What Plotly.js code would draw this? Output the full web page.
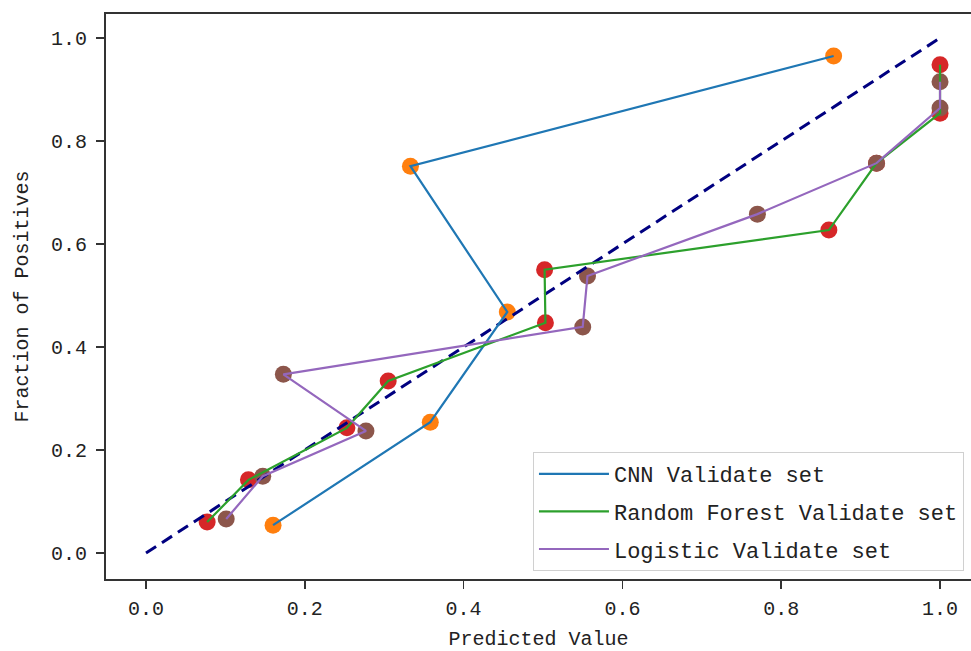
<!DOCTYPE html>
<html>
<head>
<meta charset="utf-8">
<script src="https://cdn.plot.ly/plotly-3.0.1.min.js"></script>
<style>html,body{margin:0;padding:0;background:#fff;}#chart{width:971px;height:651px;}</style>
</head>
<body>
<div id="chart"></div>
<script>
// Perfect calibration reference
const diagX = [0, 1];
const diagY = [0, 1];

// CNN Validate set
const cnnX = [0.160, 0.358, 0.455, 0.333, 0.866];
const cnnY = [0.054, 0.254, 0.468, 0.751, 0.965];

// Random Forest Validate set
const rfX = [0.077, 0.129, 0.253, 0.305, 0.503, 0.502, 0.860, 0.920, 1.000, 1.000];
const rfY = [0.060, 0.142, 0.243, 0.334, 0.447, 0.550, 0.627, 0.757, 0.854, 0.948];

// Logistic Validate set
const lrX = [0.101, 0.147, 0.277, 0.173, 0.550, 0.556, 0.770, 0.920, 1.000, 1.000];
const lrY = [0.066, 0.149, 0.237, 0.347, 0.439, 0.538, 0.658, 0.757, 0.864, 0.915];

const xTicks = [0.0, 0.2, 0.4, 0.6, 0.8, 1.0];
const xTickText = ['0.0', '0.2', '0.4', '0.6', '0.8', '1.0'];
const yTicks = [0.0, 0.2, 0.4, 0.6, 0.8, 1.0];
const yTickText = ['0.0', '0.2', '0.4', '0.6', '0.8', '1.0'];

const FONT = '"Liberation Mono", "DejaVu Sans Mono", monospace';

function markers(x, y, color) {
  return {x: x, y: y, mode: 'markers', type: 'scatter', showlegend: false, hoverinfo: 'skip',
          marker: {color: color, size: 17, line: {width: 0}}};
}
function line(x, y, color, name, grp) {
  return {x: x, y: y, mode: 'lines', type: 'scatter', name: name, legendgroup: grp,
          line: {color: color, width: 2.2}};
}

const data = [
  markers(cnnX, cnnY, '#ff7f0e'),
  markers(rfX, rfY, '#d62728'),
  markers(lrX, lrY, '#8c564b'),
  {x: diagX, y: diagY, mode: 'lines', type: 'scatter', showlegend: false, hoverinfo: 'skip',
   line: {color: '#000080', width: 3, dash: '12px,7px'}},
  line(cnnX, cnnY, '#1f77b4', 'CNN Validate set', 'a'),
  line(rfX, rfY, '#2ca02c', 'Random Forest Validate set', 'b'),
  line(lrX, lrY, '#9467bd', 'Logistic Validate set', 'c')
];

const layout = {
  width: 971, height: 651,
  margin: {l: 106, r: 0, t: 14, b: 72},
  paper_bgcolor: '#ffffff', plot_bgcolor: '#ffffff',
  font: {family: FONT, size: 20, color: '#222222'},
  showlegend: true,
  legend: {x: 0.4936, y: 0.2248, xanchor: 'left', yanchor: 'top',
           traceorder: 'grouped', tracegroupgap: 6, itemwidth: 70,
           bgcolor: 'rgba(255,255,255,0.9)', bordercolor: '#d0d0d0', borderwidth: 1,
           font: {family: FONT, size: 22, color: '#222222'}},
  xaxis: {range: [-0.0504, 1.039], tickvals: xTicks, ticktext: xTickText,
          showgrid: false, zeroline: false, showline: true, mirror: true,
          linecolor: '#333333', linewidth: 2, ticks: 'outside', ticklen: 8, tickwidth: 1.5,
          tickcolor: '#333333', ticklabelstandoff: 2, tickfont: {family: FONT, size: 20, color: '#222222'},
          title: {text: 'Predicted Value', font: {family: FONT, size: 20, color: '#222222'}, standoff: 12}},
  yaxis: {range: [-0.0505, 1.0466], tickvals: yTicks, ticktext: yTickText,
          showgrid: false, zeroline: false, showline: true, mirror: true,
          linecolor: '#333333', linewidth: 2, ticks: 'outside', ticklen: 8, tickwidth: 1.5,
          tickcolor: '#333333', ticklabelstandoff: 5, tickfont: {family: FONT, size: 20, color: '#222222'},
          title: {text: 'Fraction of Positives', font: {family: FONT, size: 20, color: '#222222'}, standoff: 17}}
};

Plotly.newPlot('chart', data, layout, {displayModeBar: false, staticPlot: true});
</script>
</body>
</html>
